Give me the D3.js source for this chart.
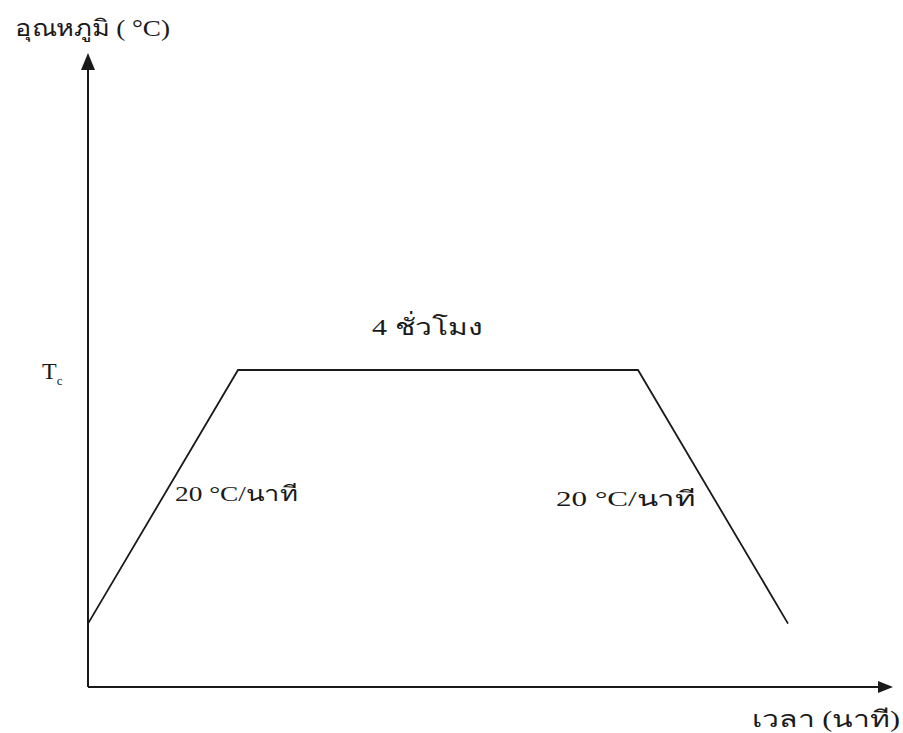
<!DOCTYPE html>
<html>
<head>
<meta charset="utf-8">
<script src="https://cdn.jsdelivr.net/npm/d3@7"></script>
<style>
  html, body { margin: 0; padding: 0; background: #fff; }
  svg { display: block; }
  text { font-family: "Liberation Serif", "DejaVu Serif", serif; fill: #1a1a1a; font-weight: 300; }
</style>
</head>
<body>
<div id="chart"></div>
<script>
// ---- data ----
const profileTime = [0, 15, 55, 70];        // minutes (schematic)
const profileTemp = [20, 100, 100, 20];     // °C (schematic, plateau = Tc)
const yAxisLabel = "อุณหภูมิ ( °C)";
const xAxisLabel = "เวลา (นาที)";
const plateauLabel = "4 ชั่วโมง";
const rateLabels = ["20 °C/นาที", "20 °C/นาที"];
const tcLabel = "T";
const tcSub = "c";

// ---- layout ----
const W = 903, H = 733;
const svg = d3.select("#chart").append("svg").attr("width", W).attr("height", H);

const x = d3.scaleLinear().domain([0, 80.5]).range([88, 893]);
const y = d3.scaleLinear().domain([0, 200]).range([687, 53]);

const ink = "#1a1a1a";

// axes
svg.append("line")
  .attr("x1", x(0)).attr("y1", y(0)).attr("x2", x(0)).attr("y2", y(197))
  .attr("stroke", ink).attr("stroke-width", 2);
svg.append("line")
  .attr("x1", x(0)).attr("y1", y(0)).attr("x2", x(79)).attr("y2", y(0))
  .attr("stroke", ink).attr("stroke-width", 2);

// arrow heads
const yt = y(200);
svg.append("path")
  .attr("d", `M${x(0)},${yt} L${x(0)-7},${yt+17} L${x(0)+7},${yt+17} Z`)
  .attr("fill", ink);
const xt = x(80.5);
svg.append("path")
  .attr("d", `M${xt},${y(0)} L${xt-15},${y(0)-6} L${xt-15},${y(0)+6} Z`)
  .attr("fill", ink);

// profile line
const pts = profileTime.map((t, i) => [t, profileTemp[i]]);
svg.append("path")
  .datum(pts)
  .attr("d", d3.line().x(d => x(d[0])).y(d => y(d[1])))
  .attr("fill", "none").attr("stroke", ink).attr("stroke-width", 1.8);

// labels
svg.append("text").attr("x", 15).attr("y", 36).attr("font-size", 23)
  .attr("textLength", 155).attr("lengthAdjust", "spacingAndGlyphs").text(yAxisLabel);
svg.append("text").attr("x", 752).attr("y", 727).attr("font-size", 23)
  .attr("textLength", 148).attr("lengthAdjust", "spacingAndGlyphs").text(xAxisLabel);

const tc = svg.append("text").attr("x", 42).attr("y", y(100) + 9).attr("font-size", 24);
tc.append("tspan").text(tcLabel);
tc.append("tspan").attr("font-size", 13).attr("dy", 6).text(tcSub);

svg.append("text").attr("x", 372)
  .attr("y", y(100) - 35).attr("font-size", 23)
  .attr("textLength", 110).attr("lengthAdjust", "spacingAndGlyphs").text(plateauLabel);

svg.append("text").attr("x", 175).attr("y", 501).attr("font-size", 21)
  .attr("textLength", 123).attr("lengthAdjust", "spacingAndGlyphs").text(rateLabels[0]);
svg.append("text").attr("x", 556).attr("y", 506).attr("font-size", 21)
  .attr("textLength", 140).attr("lengthAdjust", "spacingAndGlyphs").text(rateLabels[1]);
</script>
</body>
</html>
